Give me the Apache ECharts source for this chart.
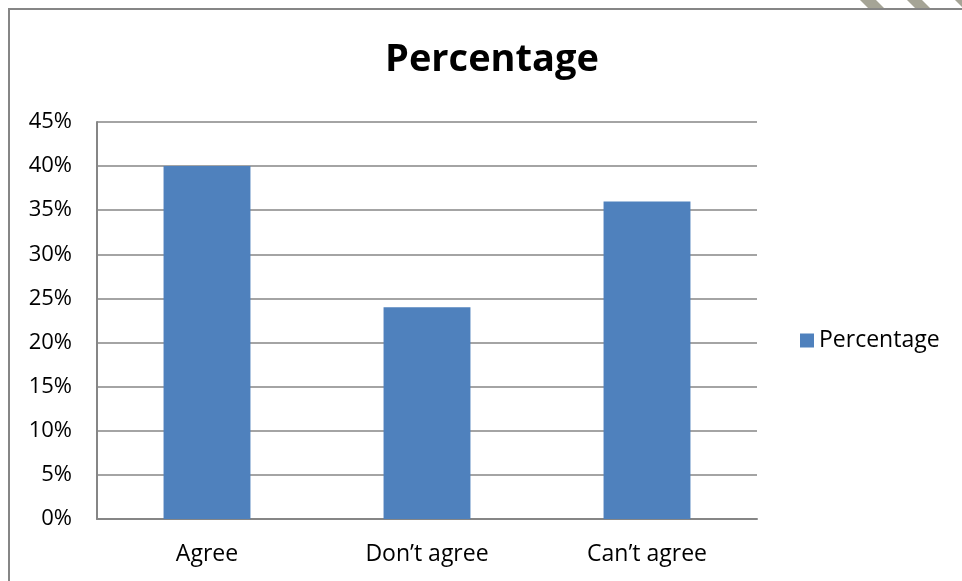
<!DOCTYPE html>
<html>
<head>
<meta charset="utf-8">
<script src="https://cdn.jsdelivr.net/npm/echarts@6/dist/echarts.min.js"></script>
<style>
  html, body { margin: 0; padding: 0; background: #ffffff; }
  #chart { width: 962px; height: 581px; }
</style>
</head>
<body>
<div id="chart"></div>
<script>
// Survey responses
const categories = ['Agree', 'Don\u2019t agree', 'Can\u2019t agree'];
const seriesName = 'Percentage';
const percentValues = [40, 24, 36];
const yTicks = { min: 0, max: 45, step: 5 };

const FONT = '"Open Sans", "Noto Sans", sans-serif';
const GREY = '#868686';

const chart = echarts.init(document.getElementById('chart'), null, { renderer: 'canvas' });

chart.setOption({
  animation: false,
  backgroundColor: '#ffffff',
  title: {
    text: seriesName,
    left: 487,
    top: 36,
    textAlign: 'center',
    textStyle: { fontFamily: FONT, fontSize: 38, fontWeight: 'bold', color: '#000000' }
  },
  legend: {
    data: [seriesName],
    orient: 'vertical',
    left: 795,
    top: 324,
    itemWidth: 14,
    itemHeight: 14,
    itemGap: 8,
    icon: 'rect',
    textStyle: { fontFamily: FONT, fontSize: 23, color: '#000000' }
  },
  grid: { left: 97, top: 122, width: 660, height: 397, containLabel: false },
  xAxis: {
    type: 'category',
    data: categories,
    axisLine: { show: true, lineStyle: { color: GREY, width: 2 } },
    axisTick: { show: false },
    axisLabel: { fontFamily: FONT, fontSize: 23, color: '#000000', margin: 24 },
    splitLine: { show: false }
  },
  yAxis: {
    type: 'value',
    min: yTicks.min,
    max: yTicks.max,
    interval: yTicks.step,
    axisLine: { show: true, lineStyle: { color: GREY, width: 2 } },
    axisTick: { show: false },
    axisLabel: { fontFamily: FONT, fontSize: 22, color: '#000000', margin: 25, formatter: '{value}%' },
    splitLine: { show: true, lineStyle: { color: GREY, width: 1.5 } }
  },
  series: [{
    name: seriesName,
    type: 'bar',
    data: percentValues,
    barWidth: '39.5%',
    itemStyle: { color: '#4F81BD' }
  }],
  graphic: [
    // outer chart frame
    {
      type: 'rect',
      shape: { x: 9, y: 9, width: 1000, height: 700 },
      style: { fill: 'none', stroke: GREY, lineWidth: 2 },
      z: 10
    },
    // decorative stripes at the top-right corner
    {
      type: 'polygon',
      shape: { points: [[860, 0], [876, 0], [885, 9], [869, 9]] },
      style: { fill: '#A5A496' },
      z: 9
    },
    {
      type: 'polygon',
      shape: { points: [[907, 0], [922, 0], [931, 9], [916, 9]] },
      style: { fill: '#A5A496' },
      z: 9
    },
    {
      type: 'polygon',
      shape: { points: [[955, 0], [970, 0], [979, 9], [964, 9]] },
      style: { fill: '#A5A496' },
      z: 9
    }
  ]
});
</script>
</body>
</html>
